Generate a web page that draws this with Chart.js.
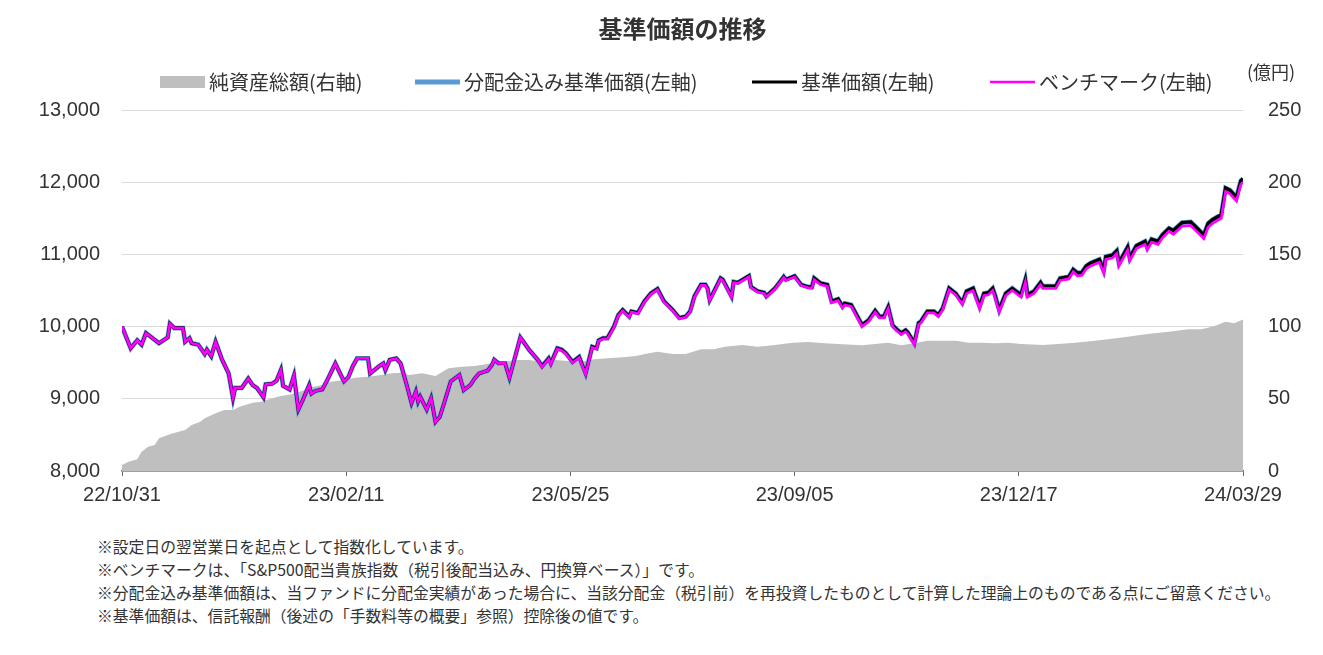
<!DOCTYPE html>
<html lang="ja">
<head>
<meta charset="utf-8">
<title>基準価額の推移</title>
<script src="https://cdn.jsdelivr.net/npm/chart.js@4.4.1/dist/chart.umd.min.js"></script>
<style>
body { margin: 0; background: #fff; }
#wrap { position: relative; width: 1323px; height: 520px; }
.notes { padding: 15px 0 0 97px; font-family: "Noto Sans CJK JP", sans-serif; font-size: 15.8px; line-height: 23px; color: #333; }
</style>
</head>
<body>
<div id="wrap"><canvas id="nav-chart"></canvas></div>
<div class="notes">
  <div>※設定日の翌営業日を起点として指数化しています。</div>
  <div>※ベンチマークは、「S&amp;P500配当貴族指数（税引後配当込み、円換算ベース）」です。</div>
  <div>※分配金込み基準価額は、当ファンドに分配金実績があった場合に、当該分配金（税引前）を再投資したものとして計算した理論上のものである点にご留意ください。</div>
  <div>※基準価額は、信託報酬（後述の「手数料等の概要」参照）控除後の値です。</div>
</div>
<script>
//Tick labels on the date axis, and the day (counted from 22/10/31) each one sits on
const tickDays = [0, 103, 206, 309, 412, 515];
const tickLabels = ['22/10/31', '23/02/11', '23/05/25', '23/09/05', '23/12/17', '24/03/29'];

//Days (from 22/10/31) of the read points of the price lines
const navDays = [0,4,7,9,11,14,17,21,22,24, 28,29,31,32,35,38,39,41,43,46, 49,51,52,55,58,60,62,65,66,69,
  71,73,74,77,79,81,83,86,87,89, 92,94,98,102,104,106,108,113,114,118, 120,121,123,126,128,131,133,135,136,137,
  140,142,144,146,148,151,155,157,160,162, 164,168,170,171,173,176,178,183,187,191, 193,196,197,200,202,204,207,210,213,216,
  218,219,221,223,226,228,230,233,234,237, 240,243,246,249,253,256,259,261,263,266, 268,269,270,272,275,276,280,281,283,288,
  289,292,295,296,300,304,305,309,312,315, 317,318,321,324,326,329,331,332,335,340, 343,346,348,350,352,354,356,358,360,361,
  364,366,367,370,373,375,377,380,383,386, 388,391,394,396,398,400,401,403,406,409, 413,415,416,419,422,423,429,431,435,437,
  439,441,443,445,449,451,452,455,457,458, 460,462,463,466,470,471,473,476,478,481, 483,487,491,493,497,499,501,505,507,509,
  512,514,515];

//基準価額 (left axis)
const navValues = [10000,9700,9810,9750,9910,9840,9770,9850,10040,9980, 9980,9790,9840,9770,9750,9620,9680,9590,9790,9540,
  9350,9010,9150,9150,9280,9190,9150,9020,9200,9210, 9250,9400,9180,9130,9320,8850,8980,9190,9070,9110,
  9130,9240,9490,9240,9300,9450,9560,9560,9350,9450, 9490,9400,9540,9560,9490,9170,8940,9100,8960,9030,
  8850,9010,8680,8750,8940,9240,9330,9120,9190,9280, 9350,9390,9470,9540,9490,9490,9290,9850,9680,9540,
  9450,9560,9490,9700,9680,9630,9510,9580,9350,9720, 9700,9810,9840,9840,10000,10160,10230,10140,10210,10190,
  10350,10460,10520,10350,10230,10120,10140,10210,10420,10580, 10580,10530,10370,10490,10670,10650,10420,10620,10610,10700,
  10550,10490,10470,10420,10530,10690,10650,10700,10580,10550, 10550,10670,10600,10580,10350,10380,10280,10320,10300,10020,
  10090,10220,10140,10140,10270,10020,9960,9910,9950,9920, 9770,10050,10070,10210,10210,10160,10250,10530,10460,10330,
  10490,10530,10280,10460,10470,10530,10440,10230,10460,10530, 10440,10650,10440,10490,10610,10560,10560,10670,10690,10790,
  10740,10750,10840,10880,10930,10780,10970,10990,11050,10880, 10990,11100,10950,11120,11180,11100,11210,11180,11270,11360,
  11330,11440,11450,11390,11270,11430,11480,11550,11920,11890, 11790,12020,12050];

//分配金込み基準価額: no distribution was paid in the period, so it runs on the NAV values
const reinvestValues = navValues;

//ベンチマーク (left axis), drifts a little under the NAV line later on
const benchValues = [10000,9700,9810,9750,9910,9840,9770,9850,10040,9980, 9980,9790,9840,9770,9750,9620,9680,9590,9790,9540,
  9350,9010,9150,9150,9280,9190,9150,9020,9200,9210, 9250,9400,9180,9130,9320,8850,8980,9190,9070,9110,
  9130,9240,9490,9240,9300,9450,9560,9560,9350,9450, 9490,9400,9540,9560,9490,9170,8940,9100,8960,9030,
  8850,9010,8680,8750,8940,9240,9330,9120,9190,9280, 9350,9390,9470,9540,9490,9490,9290,9850,9680,9540,
  9440,9550,9480,9690,9670,9620,9500,9570,9340,9710, 9690,9800,9830,9830,9990,10150,10220,10130,10200,10180,
  10340,10450,10510,10340,10220,10110,10130,10200,10410,10570, 10570,10520,10360,10480,10660,10640,10410,10610,10600,10690,
  10540,10480,10460,10410,10520,10680,10640,10690,10570,10540, 10530,10650,10580,10560,10330,10360,10260,10300,10280,10000,
  10070,10200,10120,10120,10250,10000,9940,9890,9930,9900, 9750,10030,10050,10190,10190,10140,10230,10510,10440,10310,
  10460,10500,10250,10430,10440,10500,10410,10200,10430,10500, 10410,10620,10410,10460,10580,10530,10530,10640,10660,10760,
  10700,10710,10800,10840,10890,10740,10930,10950,11010,10840, 10950,11060,10910,11080,11140,11060,11170,11140,11230,11320,
  11280,11390,11400,11340,11220,11380,11430,11500,11870,11840, 11740,11970,12000];

//純資産総額 (right axis, 億円) and the days it was read at
const assetDays = [0,3,7,9,12,15,17,22,26,29, 32,36,38,43,47,51,54,60,64,69, 73,78,83,87,92,96,102,107,113,119,
  124,128,132,138,144,150,156,162,170,176, 181,187,193,199,205,211,217,223,230,236, 242,246,253,259,266,272,277,285,292,300,
  308,315,323,331,340,346,352,358,364,370, 377,383,389,395,401,407,413,423,430,438, 447,453,462,471,481,490,496,502,507,511,
  515];
const assetValues = [4.2,6.4,8.1,13.4,16.8,18,22.6,25.4,27.2,28.4, 31.9,34.1,36.5,40,42.2,42.2,44.5,47.3,48,50.3,
  51.9,53.1,55.6,58,59.6,61.8,63,64.6,65.3,66.5, 67.7,68.1,66.5,67.7,65.8,71.1,72.2,72.7,74.6,75.7,
  76.9,76.9,75.7,76.9,76.2,75.7,77.4,78,78.7,79.6, 81.5,82.6,81,81,84.3,84.3,86.1,87.3,86.1,87.3,
  88.9,89.3,88.4,87.7,87,87.9,88.9,87,88.4,90.2, 90.2,90.2,88.9,88.9,88.4,88.9,87.9,87.3,87.9,88.9,
  90.2,91.2,93,94.9,96.5,98.1,98.1,100.4,103.4,102.3, 105];

if (navDays.length !== navValues.length || navDays.length !== benchValues.length || assetDays.length !== assetValues.length) {
    throw new Error('length mismatch ' + navDays.length + ' ' + navValues.length + ' ' + benchValues.length + ' ' + assetDays.length + ' ' + assetValues.length);
}

function toPoints(days, values){
    return days.map((d, i) => ({x: d, y: values[i]}));
}

const jpFont = '"Noto Sans CJK JP", sans-serif';
Chart.defaults.font.family = '"Liberation Sans", "Noto Sans CJK JP", sans-serif';
Chart.defaults.color = '#333';

//Legend row and the unit label above the right axis
const legendRow = {
    id: 'legendRow',
    afterDraw(chart){
        const ctx = chart.ctx;
        const startX = [160, 415, 752, 990];
        const lineWidths = [0, 5, 3, 2.5];
        const y = 82;
        ctx.save();
        ctx.font = '20px ' + jpFont;
        ctx.textBaseline = 'middle';
        chart.data.datasets.forEach((ds, i) => {
            const x = startX[i];
            if(i === 0){
                ctx.fillStyle = ds.backgroundColor;
                ctx.fillRect(x, y - 6, 45, 12);
            }
            else{
                ctx.strokeStyle = ds.borderColor;
                ctx.lineWidth = lineWidths[i];
                ctx.beginPath();
                ctx.moveTo(x, y);
                ctx.lineTo(x + 45, y);
                ctx.stroke();
            }
            ctx.fillStyle = '#333';
            ctx.fillText(ds.label, x + 49, y);
        });
        ctx.font = '18px ' + jpFont;
        ctx.fillText('(億円)', 1247, 72);
        ctx.restore();
    }
};

const navChart = new Chart('nav-chart', {
    type: 'line',
    data: {
        datasets: [{
            label: '純資産総額(右軸)',
            data: toPoints(assetDays, assetValues),
            yAxisID: 'y2',
            fill: 'start',
            backgroundColor: '#bfbfbf',
            borderWidth: 0,
            order: 4
        }, {
            label: '分配金込み基準価額(左軸)',
            data: toPoints(navDays, reinvestValues),
            yAxisID: 'y',
            borderColor: '#5b9bd5',
            borderWidth: 4.8,
            order: 3
        }, {
            label: '基準価額(左軸)',
            data: toPoints(navDays, navValues),
            yAxisID: 'y',
            borderColor: '#000000',
            borderWidth: 3.4,
            order: 2
        }, {
            label: 'ベンチマーク(左軸)',
            data: toPoints(navDays, benchValues),
            yAxisID: 'y',
            borderColor: '#ff00ff',
            borderWidth: 2.7,
            order: 1
        }]
    },
    options: {
        responsive: true,
        maintainAspectRatio: false,
        animation: false,
        layout: { padding: 0 },
        elements: { point: { radius: 0 }, line: { tension: 0 } },
        plugins: {
            legend: { display: false },
            tooltip: { enabled: false },
            title: {
                display: true,
                text: '基準価額の推移',
                fullSize: false,
                color: '#333',
                font: { size: 24, weight: 'bold', family: jpFont },
                padding: { top: 14, bottom: 67.2 }
            }
        },
        scales: {
            x: {
                type: 'linear',
                min: 0,
                max: 515,
                afterBuildTicks: (scale) => { scale.ticks = tickDays.map(v => ({value: v})); },
                afterFit: (scale) => { scale.height = 49; },
                ticks: {
                    callback: (v) => tickLabels[tickDays.indexOf(v)],
                    font: { size: 20 },
                    color: '#333',
                    padding: 7,
                    maxRotation: 0,
                    autoSkip: false
                },
                grid: { drawOnChartArea: false, tickLength: 5, color: '#666' },
                border: { color: '#666', width: 1.5 }
            },
            y: {
                position: 'left',
                min: 8000,
                max: 13000,
                afterFit: (scale) => { scale.width = 122; },
                ticks: {
                    stepSize: 1000,
                    callback: (v) => v.toLocaleString('en-US'),
                    font: { size: 20 },
                    color: '#333',
                    padding: 22
                },
                grid: { color: '#d9d9d9', drawTicks: false },
                border: { display: false }
            },
            y2: {
                position: 'right',
                min: 0,
                max: 250,
                afterFit: (scale) => { scale.width = 80; },
                ticks: {
                    stepSize: 50,
                    font: { size: 20 },
                    color: '#333',
                    padding: 17
                },
                grid: { display: false },
                border: { display: false }
            }
        }
    },
    plugins: [legendRow]
});
</script>
</body>
</html>
